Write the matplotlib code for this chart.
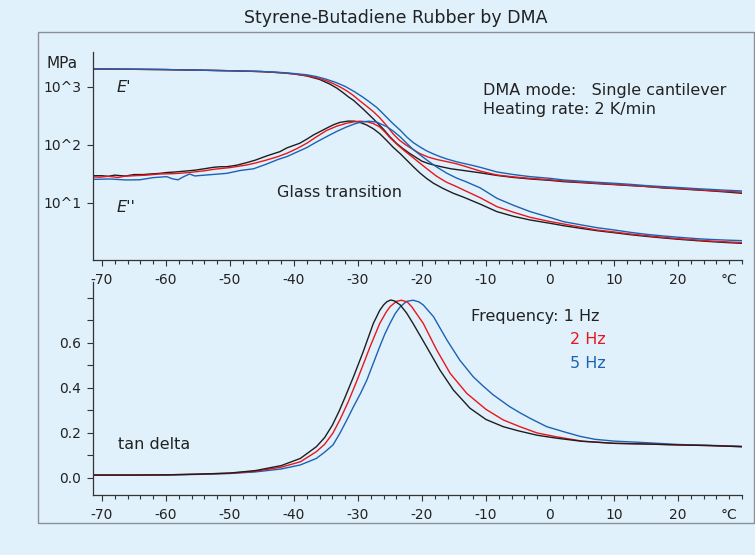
import matplotlib
matplotlib.use("Agg")
import matplotlib.pyplot as plt
import matplotlib.patches as mpatches
from matplotlib.ticker import FixedLocator, MultipleLocator, NullLocator
import numpy as np

plt.rcParams['font.family'] = ['DejaVu Sans']

W, H = 755, 555
BG = '#E0F1FB'
TXT = '#222222'
C_1HZ = '#1E1E1E'
C_2HZ = '#E8161B'
C_5HZ = '#1C62B4'

# ---- data; moduli as log10(MPa) ----
t_ep_1 = [-71.4, -65, -60, -55, -50, -45, -42, -40, -38, -36, -34.4, -33.3, -32.3, -31.5, -30.7, -30,
          -29.2, -28.4, -27.6, -26.8, -26, -25, -24, -23, -22, -21, -20, -19, -18, -17, -15.5, -13.5,
          -10.9, -8.3, -5.7, -3.1, 0, 2.1, 5, 7.3, 10, 12.5, 15, 17.7, 20, 22.9, 25, 27.5, 30]
ep_1 = [3.31, 3.305, 3.30, 3.29, 3.28, 3.265, 3.245, 3.225, 3.19, 3.13, 3.05, 2.98, 2.9, 2.83, 2.77, 2.70,
        2.62, 2.535, 2.45, 2.36, 2.27, 2.14, 2.03, 1.94, 1.86, 1.79, 1.72, 1.68, 1.65, 1.625, 1.59, 1.56,
        1.52, 1.475, 1.44, 1.414, 1.39, 1.368, 1.35, 1.334, 1.317, 1.30, 1.284, 1.259, 1.245, 1.224, 1.21, 1.19, 1.167]

t_ep_2 = [-71.4, -65, -60, -55, -50, -45, -42, -40, -38, -36.5, -35, -33.9, -32.8, -31.8, -30.8, -29.7,
          -28.6, -27.6, -26.6, -25.5, -24.5, -23.5, -22.5, -21.5, -20.3, -19, -17.7, -16, -14.6, -13.5,
          -10.9, -8.3, -5.7, -3.1, 0, 2.1, 5, 7.3, 10, 12.5, 15, 17.7, 20, 22.9, 25, 27.5, 30]
ep_2 = [3.31, 3.305, 3.30, 3.29, 3.28, 3.265, 3.245, 3.225, 3.195, 3.16, 3.11, 3.06, 3.0, 2.937, 2.86, 2.76,
        2.665, 2.575, 2.47, 2.33, 2.19, 2.08, 2.0, 1.93, 1.85, 1.79, 1.75, 1.71, 1.675, 1.64,
        1.55, 1.483, 1.45, 1.425, 1.40, 1.38, 1.358, 1.34, 1.322, 1.305, 1.285, 1.265, 1.25, 1.23, 1.215, 1.20, 1.187]

t_ep_5 = [-71.4, -65, -60, -55, -50, -45, -42, -40, -38, -36.5, -35, -33.5, -32, -30.5, -29.3, -28.3,
          -27.1, -26.3, -25.5, -24.5, -23.4, -22.4, -21.35, -20.3, -19.3, -18.2, -17.2, -16.15, -14.6,
          -13.2, -12, -10.9, -8.3, -5.7, -3.1, 0, 2.1, 5, 7.3, 10, 12.5, 15, 17.7, 20, 22.9, 25, 27.5, 30]
ep_5 = [3.31, 3.305, 3.30, 3.29, 3.28, 3.267, 3.25, 3.232, 3.21, 3.18, 3.135, 3.08, 3.01, 2.915, 2.83, 2.75,
        2.65, 2.565, 2.475, 2.365, 2.255, 2.14, 2.04, 1.965, 1.9, 1.845, 1.80, 1.76, 1.71,
        1.675, 1.645, 1.615, 1.535, 1.49, 1.454, 1.425, 1.397, 1.375, 1.357, 1.34, 1.322, 1.30, 1.282,
        1.267, 1.247, 1.235, 1.22, 1.207]

t_epp_1 = [-71.4, -70, -69, -68, -67, -66.3, -65, -63.5, -62.5, -61, -59.9, -58.5, -57, -55.5, -54,
           -52.6, -51.5, -50.5, -49, -47.4, -46, -44.3, -42.2, -41.1, -39.1, -38, -37, -34.9, -33.8,
           -32.8, -31.5, -30.5, -29.7, -28.65, -27.6, -26.6, -25.5, -24.5, -23.4, -22.4, -21.4, -20.3,
           -19.3, -18.2, -16.7, -15.1, -13.5, -10.9, -8.3, -5.7, -3.1, 0, 2.1, 5, 7.3, 10, 12.5, 15,
           17.7, 20, 22.9, 25, 27.5, 30]
epp_1 = [1.47, 1.47, 1.46, 1.48, 1.47, 1.465, 1.49, 1.49, 1.50, 1.51, 1.525, 1.535, 1.55, 1.565, 1.59,
         1.615, 1.625, 1.625, 1.65, 1.695, 1.74, 1.81, 1.885, 1.95, 2.03, 2.10, 2.17, 2.29, 2.35,
         2.39, 2.412, 2.41, 2.39, 2.345, 2.28, 2.195, 2.075, 1.96, 1.85, 1.741, 1.63, 1.515,
         1.425, 1.34, 1.25, 1.167, 1.10, 0.98, 0.851, 0.77, 0.707, 0.65, 0.609, 0.56, 0.523, 0.488, 0.454, 0.425,
         0.397, 0.375, 0.351, 0.335, 0.318, 0.305]

t_epp_2 = [-71.4, -70.3, -69, -67.5, -66.5, -65, -63, -61, -59, -57.8, -56, -54, -52.6, -50, -47.4, -46,
           -44.3, -42.5, -41.1, -39.5, -38, -36.5, -34.9, -33.3, -31.8, -30.7, -29.7, -28.6, -27.6,
           -26.6, -25.8, -25, -23.9, -22.9, -21.6, -20.3, -19, -17.7, -16.2, -14.6, -13.5, -10.9, -8.3,
           -5.7, -3.1, 0, 2.1, 5, 7.3, 10, 12.5, 15, 17.7, 20, 22.9, 25, 27.5, 30]
epp_2 = [1.45, 1.445, 1.46, 1.44, 1.46, 1.47, 1.48, 1.50, 1.505, 1.512, 1.53, 1.555, 1.58, 1.61, 1.655, 1.69,
         1.74, 1.80, 1.857, 1.94, 2.03, 2.14, 2.25, 2.325, 2.374, 2.398, 2.41, 2.40, 2.37,
         2.31, 2.225, 2.125, 2.01, 1.914, 1.80, 1.684, 1.57, 1.46, 1.36, 1.282, 1.224, 1.09, 0.937,
         0.84, 0.753, 0.68, 0.638, 0.58, 0.535, 0.50, 0.466, 0.437, 0.408, 0.385, 0.362, 0.345, 0.33, 0.318]

t_epp_5 = [-71.4, -70.8, -68.8, -66.3, -64.1, -62, -59.9, -58.9, -58.1, -57.3, -56.3, -55.5, -53.6,
           -50.5, -48.4, -46.3, -44.3, -42.5, -41.1, -39.5, -38, -36.5, -34.9, -33.3, -31.8, -30.5,
           -29.5, -28.3, -27.1, -25.5, -24.5, -23.4, -22.4, -21.35, -20.3, -19.3, -17.7, -16.15, -14.6,
           -13.2, -10.9, -8.3, -5.7, -3.1, 0, 2.1, 5, 7.3, 10, 12.5, 15, 17.7, 20, 22.9, 25, 27.5, 30]
epp_5 = [1.41, 1.408, 1.414, 1.397, 1.40, 1.437, 1.454, 1.414, 1.40, 1.45, 1.50, 1.466, 1.483,
         1.511, 1.56, 1.59, 1.67, 1.75, 1.80, 1.88, 1.955, 2.05, 2.144, 2.235, 2.31, 2.365,
         2.395, 2.41, 2.395, 2.316, 2.24, 2.14, 2.03, 1.92, 1.83, 1.745, 1.62, 1.515, 1.43,
         1.37, 1.26, 1.081, 0.96, 0.851, 0.75, 0.678, 0.62, 0.575, 0.535, 0.495, 0.46, 0.431, 0.41, 0.385,
         0.372, 0.36, 0.351]

t_tan_1 = [-71.4, -65, -60, -55, -50, -46, -42, -39, -36.5, -35.2, -34, -32.9, -32, -30.7, -29.2, -27.6,
           -26.6, -26, -25.5, -24.9, -24.3, -23.4, -22.4, -21.4, -19.3, -17.2, -15.1, -12.5, -10, -7.3,
           -5, -2, 1, 5, 10, 15, 20, 25, 30]
tan_1 = [0.013, 0.013, 0.014, 0.017, 0.022, 0.033, 0.055, 0.087, 0.139, 0.18, 0.235, 0.30, 0.36, 0.45,
         0.56, 0.687, 0.745, 0.769, 0.783, 0.791, 0.787, 0.769, 0.733, 0.687, 0.584, 0.48, 0.391, 0.31,
         0.26, 0.228, 0.21, 0.19, 0.177, 0.163, 0.154, 0.151, 0.147, 0.144, 0.139]

t_tan_2 = [-71.4, -65, -60, -55, -50, -46, -42, -39, -36.5, -35.2, -33.9, -32.8, -31.5, -30.2, -29.1,
           -28.1, -26.6, -25.6, -25, -24, -23.2, -22.3, -21.6, -19.8, -17.7, -15.6, -13, -10, -7.3, -4.7,
           -2, 1, 5, 10, 15, 20, 25, 30]
tan_2 = [0.013, 0.013, 0.014, 0.017, 0.021, 0.03, 0.048, 0.072, 0.117, 0.15, 0.2, 0.26, 0.34, 0.43, 0.51,
         0.584, 0.687, 0.737, 0.761, 0.785, 0.79, 0.782, 0.761, 0.687, 0.569, 0.465, 0.376, 0.305, 0.258,
         0.228, 0.2, 0.183, 0.164, 0.154, 0.151, 0.147, 0.144, 0.139]

t_tan_5 = [-71.4, -60, -55, -50, -46, -42, -39, -36.5, -35.2, -33.9, -32.8, -31.7, -30.7, -29.6, -28.6,
           -27.6, -26.6, -25.8, -25, -24.2, -23.4, -22.4, -21.4, -20.5, -19.8, -18.2, -16.1, -14.1, -12,
           -10.5, -8.9, -6.3, -4.7, -3.1, -0.5, 2.1, 4.7, 7, 10, 15, 20, 25, 30]
tan_5 = [0.013, 0.013, 0.016, 0.02, 0.027, 0.04, 0.058, 0.087, 0.115, 0.147, 0.2, 0.26, 0.317, 0.376,
         0.436, 0.51, 0.584, 0.64, 0.687, 0.73, 0.761, 0.785, 0.79, 0.783, 0.769, 0.717, 0.613, 0.524,
         0.45, 0.41, 0.37, 0.317, 0.29, 0.265, 0.228, 0.206, 0.185, 0.172, 0.164, 0.157, 0.149, 0.145, 0.141]

x_major = [-70, -60, -50, -40, -30, -20, -10, 0, 10, 20]
tan_ticks = [0.0, 0.1, 0.2, 0.3, 0.4, 0.5, 0.6, 0.7, 0.8]
tan_labels = ['0.0', '', '0.2', '', '0.4', '', '0.6', '', '']

fig = plt.figure(figsize=(W / 100, H / 100), dpi=100, facecolor=BG)


def fx(px):
    return px / W


def fy(py):
    return 1 - py / H


frame = mpatches.Rectangle((fx(38), fy(523)), (754 - 38) / W, (523 - 32) / H,
                           transform=fig.transFigure, fill=False, ec='#8c9096', lw=1.0)
fig.add_artist(frame)

ax1 = fig.add_axes([fx(93), fy(260), (742 - 93) / W, (260 - 52) / H])
ax2 = fig.add_axes([fx(93), fy(495), (742 - 93) / W, (495 - 282) / H])


def style(ax):
    ax.set_facecolor('none')
    for s in ['top', 'right']:
        ax.spines[s].set_visible(False)
    for s in ['left', 'bottom']:
        ax.spines[s].set_color('#333333')
        ax.spines[s].set_linewidth(0.9)
    ax.set_xlim(-71.4, 30.0)
    ax.xaxis.set_major_locator(FixedLocator(x_major + [28]))
    ax.set_xticklabels([str(v) for v in x_major] + ['°C'])
    ax.xaxis.set_minor_locator(MultipleLocator(2))
    ax.tick_params(axis='both', which='major', direction='out', length=4.5, width=0.8,
                   color='#333333', labelsize=10, labelcolor=TXT, pad=4)
    ax.tick_params(axis='x', which='minor', direction='out', length=3.2, width=0.8, color='#333333')
    ax.tick_params(axis='x', which='major', pad=5)
    ax.xaxis.get_major_ticks()[-1].tick1line.set_markersize(3.2)


for ax in (ax1, ax2):
    style(ax)

# upper: moduli
for t, v, c in [(t_ep_1, ep_1, C_1HZ), (t_ep_2, ep_2, C_2HZ), (t_ep_5, ep_5, C_5HZ),
                (t_epp_1, epp_1, C_1HZ), (t_epp_2, epp_2, C_2HZ), (t_epp_5, epp_5, C_5HZ)]:
    ax1.plot(t, 10 ** np.array(v), color=c, lw=1.0)
ax1.set_yscale('log')
ax1.set_ylim(10 ** 0.017, 10 ** 3.603)
ax1.yaxis.set_major_locator(FixedLocator([10, 100, 1000]))
ax1.yaxis.set_minor_locator(NullLocator())
ax1.set_yticklabels(['10^1', '10^2', '10^3'])

# lower: tan delta
for t, v, c in [(t_tan_5, tan_5, C_5HZ), (t_tan_2, tan_2, C_2HZ), (t_tan_1, tan_1, C_1HZ)]:
    ax2.plot(t, v, color=c, lw=1.0)
ax2.set_ylim(-0.0756, 0.871)
ax2.yaxis.set_major_locator(FixedLocator(tan_ticks))
ax2.set_yticklabels(tan_labels)

# texts
fig.text(fx(396), fy(23), 'Styrene-Butadiene Rubber by DMA', ha='center', va='baseline',
         fontsize=12.5, color=TXT)
fig.text(fx(47), fy(68), 'MPa', ha='left', va='baseline', fontsize=11, color=TXT)
fig.text(fx(117), fy(92.5), "E'", ha='left', va='baseline', fontsize=11.5, color=TXT, style='italic')
fig.text(fx(117), fy(211.5), "E''", ha='left', va='baseline', fontsize=11.5, color=TXT, style='italic')
fig.text(fx(277), fy(197), 'Glass transition', ha='left', va='baseline', fontsize=11.5, color=TXT)
fig.text(fx(483), fy(95), 'DMA mode:   Single cantilever', ha='left', va='baseline', fontsize=11.5, color=TXT)
fig.text(fx(483), fy(114), 'Heating rate: 2 K/min', ha='left', va='baseline', fontsize=11.5, color=TXT)
fig.text(fx(471), fy(321.5), 'Frequency: 1 Hz', ha='left', va='baseline', fontsize=11.5, color=TXT)
fig.text(fx(606), fy(344), '2 Hz', ha='right', va='baseline', fontsize=11.5, color=C_2HZ)
fig.text(fx(606), fy(367.5), '5 Hz', ha='right', va='baseline', fontsize=11.5, color=C_5HZ)
fig.text(fx(118), fy(449), 'tan delta', ha='left', va='baseline', fontsize=11.5, color=TXT)

fig.savefig('out.png', dpi=100, facecolor=BG)
plt.close(fig)
